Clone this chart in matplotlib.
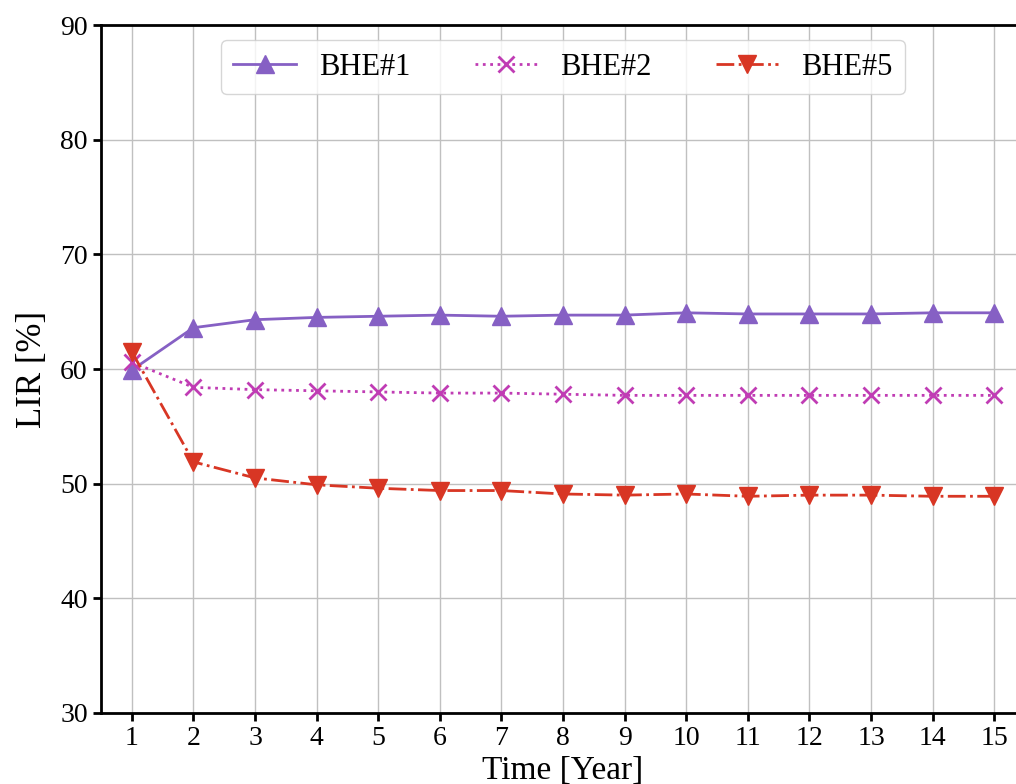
import numpy as np
import matplotlib
matplotlib.use('Agg')
import matplotlib.pyplot as plt

plt.rcParams['font.family'] = ['Liberation Serif', 'DejaVu Serif']

years = list(range(1, 16))
bhe1 = [59.9, 63.6, 64.3, 64.5, 64.6, 64.7, 64.6, 64.7, 64.7, 64.9, 64.8, 64.8, 64.8, 64.9, 64.9]
bhe2 = [60.6, 58.4, 58.2, 58.1, 58.0, 57.9, 57.9, 57.8, 57.7, 57.7, 57.7, 57.7, 57.7, 57.7, 57.7]
bhe5 = [61.5, 51.9, 50.5, 49.9, 49.6, 49.4, 49.4, 49.1, 49.0, 49.1, 48.9, 49.0, 49.0, 48.9, 48.9]

fig = plt.figure(figsize = (10.16, 7.84), dpi = 100)
ax = fig.add_axes([101 / 1016, 1 - 713 / 784, 924 / 1016, 688 / 784])

ax.plot(years, bhe1, '-', marker = '^', color = '#8660c4', lw = 2, ms = 13, label = 'BHE#1', zorder = 3)
ax.plot(years, bhe2, ':', marker = 'x', color = '#c03cb4', lw = 2, ms = 12, mew = 2, label = 'BHE#2', zorder = 3)
ax.plot(years, bhe5, '-.', marker = 'v', color = '#d83624', lw = 2, ms = 13, label = 'BHE#5', zorder = 3)

ax.set_xlim(0.5, 15.5)
ax.set_ylim(30, 90)
ax.set_xticks(years)
ax.set_yticks(np.arange(30, 91, 10))
ax.grid(True, color = '#c0c0c0', lw = 1)
ax.set_axisbelow(True)
for s in ax.spines.values():
    s.set_linewidth(2)
ax.tick_params(labelsize = 20, width = 2, length = 6)
ax.set_xlabel('Time [Year]', fontsize = 24, labelpad = 3)
ax.set_ylabel('LIR [%]', fontsize = 25, labelpad = 8)

ax.legend(loc = 'upper center', bbox_to_anchor = (0.5, 1.0), ncol = 3, fontsize = 22,
          handlelength = 2.05, columnspacing = 2.1, handletextpad = 0.75,
          framealpha = 0.8, borderpad = 0.4)

plt.savefig('out.png', dpi = 100)
